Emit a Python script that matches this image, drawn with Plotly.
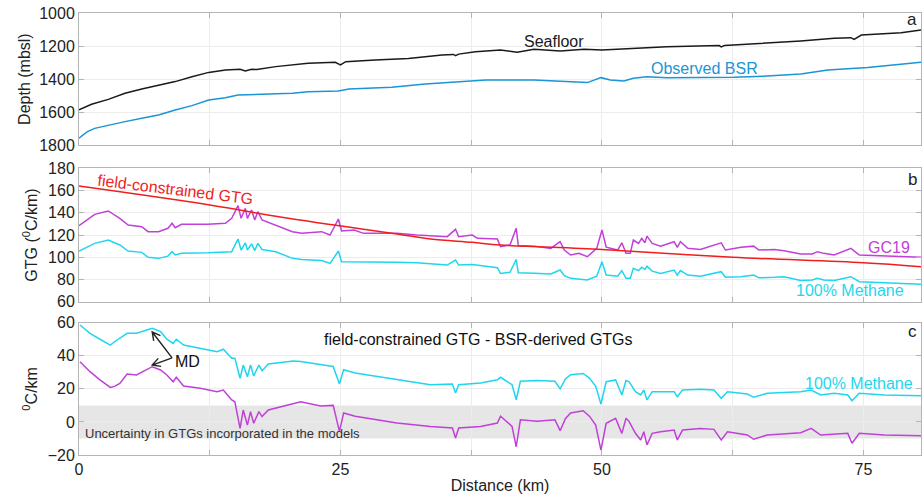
import math
import plotly.graph_objects as go

# ---------------- Panel a : depth ----------------
sea_x = [0, 1.2, 2.8, 4.4, 6.0, 7.6, 9.2, 10.8, 12.4, 14.0, 14.9, 15.4, 15.9, 16.5, 17.0, 18.8, 21.9,
         24.5, 25.0, 25.5, 28.3, 31.5, 34.7, 35.8, 36.0, 36.3, 37.9, 40.3, 41.9, 43.5, 46.0, 48.3,
         50.0, 53.0, 56.2, 61.2, 61.4, 61.7, 62.6, 65.8, 69.0, 72.2, 73.8, 74.1, 74.8, 78.6, 80.5]
sea_d = [1587, 1553, 1523, 1486, 1460, 1436, 1415, 1385, 1359, 1344, 1344, 1340, 1350, 1340, 1342, 1324, 1304,
         1298, 1314, 1294, 1284, 1274, 1253, 1250, 1257, 1248, 1233, 1223, 1237, 1219, 1229, 1219,
         1223, 1213, 1203, 1196, 1204, 1196, 1193, 1178, 1168, 1152, 1148, 1158, 1132, 1118, 1101]

bsr_x = [0, 0.8, 1.5, 2.8, 4.4, 6.0, 7.6, 9.2, 10.8, 12.4, 14.0, 15.2, 17.2, 20.4, 21.9, 24.8, 25.8,
         29.9, 33.1, 36.3, 38.9, 40.3, 43.5, 48.6, 49.9, 50.8, 52.1, 53.0, 54.3, 56.2, 62.6, 65.8,
         69.0, 71.6, 75.4, 80.5]
bsr_d = [1759, 1719, 1699, 1679, 1658, 1638, 1618, 1587, 1561, 1527, 1513, 1496, 1492, 1486, 1476, 1472, 1460,
         1450, 1430, 1415, 1405, 1405, 1405, 1421, 1391, 1405, 1411, 1395, 1385, 1391, 1389, 1381,
         1369, 1344, 1330, 1298]

# ---------------- Panel b : GTG ----------------
gtg_x = [0, 1.5, 2.8, 3.9, 4.7, 6.0, 6.6, 7.6, 8.5, 8.9, 9.2, 9.8, 12.3, 14.0, 14.6, 15.2, 15.5, 15.9,
         16.1, 16.5, 16.8, 17.1, 17.5, 18.8, 20.4, 21.3, 23.2, 24.0, 24.8, 25.1, 26.3, 27.2, 30.4,
         32.3, 35.2, 36.0, 36.3, 37.6, 38.1, 40.0, 40.3, 41.2, 41.8, 42.0, 43.5, 45.1, 46.0, 46.4,
         47.0, 47.8, 48.6, 49.5, 50.0, 50.4, 51.5, 51.9, 52.3, 52.7, 53.0, 53.5, 53.8, 54.1, 54.3,
         54.8, 55.6, 56.9, 57.2, 57.5, 58.2, 59.4, 61.4, 61.8, 63.3, 64.5, 65.0, 66.5, 67.4, 69.0,
         70.1, 70.6, 71.2, 72.2, 73.8, 74.6, 77.0, 78.6, 80.5]
gc19 = [128.4, 138.6, 141.6, 135.0, 129.0, 127.5, 123.0, 123.0, 126.0, 130.5, 126.6, 129.6, 129.6, 130.5, 135.0, 146.4, 135.0, 144.0,
        135.0, 142.5, 133.5, 141.0, 133.5, 129.0, 123.0, 121.5, 123.0, 120.0, 134.4, 123.6, 124.5, 121.5, 121.5,
        120.0, 118.5, 125.1, 118.5, 120.0, 117.0, 116.4, 109.5, 111.0, 126.0, 110.5, 110.0, 108.0, 114.0, 106.5,
        102.0, 103.5, 100.5, 108.0, 124.5, 109.0, 106.5, 113.0, 103.5, 103.5, 115.5, 112.5, 117.0, 113.0, 119.0,
        112.5, 110.0, 114.0, 108.8, 114.0, 108.0, 107.0, 113.0, 106.5, 109.0, 110.0, 106.5, 107.0, 105.9, 102.9,
        103.0, 105.0, 103.5, 102.0, 108.0, 102.0, 101.0, 101.0, 100.0]
methane_b = [105.6, 112.5, 115.5, 111.0, 105.6, 104.4, 100.0, 99.0, 101.0, 105.0, 102.0, 103.5, 104.0, 104.5, 105.0, 116.4, 106.5, 113.0,
             106.5, 112.0, 106.0, 112.5, 107.0, 105.0, 99.0, 98.0, 97.0, 94.5, 105.6, 96.0, 96.0, 95.4, 95.4,
             95.0, 93.0, 97.5, 93.0, 93.5, 93.0, 90.6, 85.5, 86.5, 98.0, 86.0, 85.5, 85.0, 88.5, 83.5,
             81.0, 80.5, 79.5, 83.0, 96.0, 84.0, 83.0, 88.0, 81.0, 81.0, 90.0, 88.0, 91.0, 89.0, 92.0,
             87.5, 85.5, 88.5, 84.0, 88.0, 84.0, 83.0, 87.0, 82.0, 82.5, 84.0, 81.5, 82.0, 82.5, 79.0,
             79.5, 81.0, 79.5, 79.0, 82.5, 78.0, 77.0, 76.5, 75.7]
red_x = [0, 12.5, 20.0, 25.1, 30.4, 33.6, 37.6, 40.3, 50.0, 62.5, 75.0, 80.5]
red_gtg = [164.0, 147.0, 135.0, 128.0, 121.0, 116.4, 113.4, 111.0, 107.0, 100.0, 95.0, 91.5]

# ---------------- Panel c : difference ----------------
dif_x = [0.1, 1.05, 2.0, 3.0, 3.4, 3.9, 4.6, 5.5, 7.0, 7.8, 8.4, 9.0, 9.3, 10.0, 11.6, 13.2, 13.8, 14.6,
         14.9, 15.4, 15.7, 16.1, 16.4, 16.7, 17.2, 17.5, 18.1, 20.5, 21.2, 23.1, 24.3, 24.9, 25.3,
         26.4, 30.4, 33.6, 35.7, 36.0, 36.3, 38.4, 40.0, 40.3, 41.4, 41.8, 42.2, 43.8, 45.5, 46.0,
         46.5, 47.0, 48.2, 48.8, 49.4, 49.9, 50.4, 51.3, 51.9, 52.3, 52.6, 53.2, 53.7, 54.0, 54.3,
         54.8, 55.6, 56.9, 57.2, 57.7, 59.4, 60.7, 61.4, 62.0, 63.9, 64.5, 65.8, 69.0, 70.0, 70.9,
         72.2, 73.5, 73.9, 74.6, 77.0, 80.5]
methane_c = [58.6, 53.6, 50.0, 46.5, 48.5, 50.5, 53.6, 53.6, 56.6, 54.6, 50.0, 47.5, 50.0, 46.5, 44.5, 42.5, 44.0, 38.5,
             38.5, 26.4, 34.4, 27.3, 34.4, 27.8, 34.4, 31.0, 35.0, 36.8, 36.5, 34.4, 33.5, 23.0, 31.6,
             29.6, 25.5, 22.5, 22.9, 17.5, 22.5, 23.5, 25.5, 27.0, 22.5, 13.4, 24.6, 25.0, 24.6, 20.0,
             26.0, 28.6, 29.3, 26.5, 21.5, 10.8, 24.3, 25.4, 16.3, 25.0, 24.3, 18.3, 16.3, 19.3, 13.3,
             18.3, 18.3, 18.3, 15.3, 19.3, 19.7, 19.3, 14.3, 18.3, 16.9, 14.9, 17.3, 18.3, 19.3, 16.3,
             17.3, 16.3, 12.8, 17.3, 16.3, 15.9]
gc19_c = [36.4, 30.4, 25.4, 20.9, 21.5, 23.3, 29.0, 28.4, 33.4, 31.4, 28.4, 24.3, 27.0, 21.7, 20.3, 18.3, 19.3, 13.3,
          12.2, -3.9, 7.2, -1.9, 6.2, -0.8, 6.2, 3.2, 7.2, 11.3, 12.2, 9.6, 10.0, -5.7, 5.4,
          3.4, -0.7, -2.7, -3.7, -9.7, -3.7, -2.7, -0.7, 3.4, -2.7, -15.0, 1.3, 0.4, 1.3, -5.3,
          2.0, 5.4, 6.8, 3.5, -1.9, -17.0, -0.8, 2.2, -6.9, 2.2, 0.2, -6.9, -10.9, -5.9, -13.9,
          -6.9, -5.9, -4.9, -10.9, -4.9, -3.9, -4.5, -10.9, -5.9, -7.9, -10.5, -7.9, -6.5, -3.9, -7.9,
          -7.3, -6.9, -12.9, -6.9, -7.9, -8.3]

X_MAX = 80.5

BLACK = "#1a1a1a"
BSR_BLUE = "#1a96d4"
MAGENTA = "#c040d8"
CYAN = "#1fd6ee"
RED = "#f01e1e"
FONT = "Liberation Sans, Arial, sans-serif"
FRAME = "#b4b4b4"
GRID = "#ececec"

fig = go.Figure()
fig.add_trace(go.Scatter(x=sea_x, y=sea_d, mode="lines", line=dict(color=BLACK, width=1.5), xaxis="x", yaxis="y"))
fig.add_trace(go.Scatter(x=bsr_x, y=bsr_d, mode="lines", line=dict(color=BSR_BLUE, width=1.5), xaxis="x", yaxis="y"))
fig.add_trace(go.Scatter(x=gtg_x, y=gc19, mode="lines", line=dict(color=MAGENTA, width=1.5), xaxis="x2", yaxis="y2"))
fig.add_trace(go.Scatter(x=gtg_x, y=methane_b, mode="lines", line=dict(color=CYAN, width=1.5), xaxis="x2", yaxis="y2"))
fig.add_trace(go.Scatter(x=red_x, y=red_gtg, mode="lines", line=dict(color=RED, width=1.5, shape="spline"), xaxis="x2", yaxis="y2"))
fig.add_trace(go.Scatter(x=dif_x, y=methane_c, mode="lines", line=dict(color=CYAN, width=1.5), xaxis="x3", yaxis="y3"))
fig.add_trace(go.Scatter(x=dif_x, y=gc19_c, mode="lines", line=dict(color=MAGENTA, width=1.5), xaxis="x3", yaxis="y3"))

axis_common = dict(showline=True, linecolor=FRAME, linewidth=1, mirror="ticks", ticks="inside",
                   ticklen=5, tickcolor=FRAME, showgrid=True, gridcolor=GRID, gridwidth=1,
                   zeroline=False, tickfont=dict(family=FONT, size=16, color="#222"))
title_font = dict(family=FONT, size=16, color="#222")

xa = dict(axis_common, range=[0, X_MAX], tickmode="linear", tick0=0, dtick=25,
          minor=dict(tickmode="linear", tick0=0, dtick=12.5, showgrid=True, gridcolor=GRID,
                     ticks="inside", ticklen=5, tickcolor=FRAME))

fig.update_layout(
    width=924, height=497,
    margin=dict(l=79, r=3, t=12, b=42),
    paper_bgcolor="white", plot_bgcolor="white",
    showlegend=False,
    font=dict(family=FONT, size=16, color="#222"),
    xaxis=dict(xa, anchor="y", showticklabels=False),
    xaxis2=dict(xa, anchor="y2", matches="x", showticklabels=False),
    xaxis3=dict(xa, anchor="y3", matches="x", showticklabels=True,
                title=dict(text="Distance (km)", font=title_font, standoff=2)),
    yaxis=dict(axis_common, domain=[0.6998, 0.9971], range=[1800, 1000], tickmode="linear",
               tick0=1000, dtick=200,
               title=dict(text="Depth (mbsl)", font=title_font, standoff=4)),
    yaxis2=dict(axis_common, domain=[0.3460, 0.6472], range=[60, 180], tickmode="linear",
                tick0=60, dtick=20,
                title=dict(text="GTG (<sup>0</sup>C/km)", font=title_font, standoff=6)),
    yaxis3=dict(axis_common, domain=[0.0, 0.2986], range=[-20, 60], tickmode="linear",
                tick0=-20, dtick=20,
                title=dict(text="<sup>0</sup>C/km", font=title_font, standoff=6)),
)

fig.add_shape(type="rect", xref="x3", yref="y3", x0=0, x1=X_MAX, y0=-10, y1=10,
              fillcolor="#e6e6e6", line=dict(width=0), layer="below")

def ann(text, x, y, xr, yr, color="#222", size=16, **kw):
    kw.setdefault("xanchor", "center")
    kw.setdefault("yanchor", "middle")
    fig.add_annotation(text=text, x=x, y=y, xref=xr, yref=yr, showarrow=False,
                       font=dict(family=FONT, size=size, color=color), **kw)

# panel letters
ann("a", 80.3, 1040, "x", "y", xanchor="right", size=17)
ann("b", 80.3, 170, "x2", "y2", xanchor="right", size=17)
ann("c", 80.3, 54.5, "x3", "y3", xanchor="right", size=17)

# curve labels
ann("Seafloor", 45.4, 1174, "x", "y", color=BLACK)
ann("Observed BSR", 59.8, 1338, "x", "y", color=BSR_BLUE)
ann("field-constrained GTG", 9.2, 160.5, "x2", "y2", color=RED, textangle=7)
ann("GC19", 77.4, 109.2, "x2", "y2", color=MAGENTA)
ann("100% Methane", 73.7, 70.5, "x2", "y2", color=CYAN)
ann("field-constrained GTG - BSR-derived GTGs", 38.2, 50.1, "x3", "y3", color="#111")
ann("100% Methane", 74.6, 23.5, "x3", "y3", color=CYAN)
ann("MD", 10.4, 36.4, "x3", "y3", color="#111")
ann("Uncertainty in GTGs incorporated in the models", 0.4, -6.9, "x3", "y3", color="#333",
    size=13, xanchor="left")

# MD arrows drawn as open-V arrow shapes (geometry computed in pixel space)
PX_PER_KM = 842 / X_MAX
PX_PER_C = 132.3 / 80.0
tail = (8.9, 38.7)
for tip in ((7.0, 54.4), (7.0, 34.4)):
    dx = (tip[0] - tail[0]) * PX_PER_KM
    dy = (tip[1] - tail[1]) * PX_PER_C
    ang = math.atan2(dy, dx)
    pts = []
    for s in (+1, -1):
        a = ang + math.pi + s * math.radians(28)
        pts.append((tip[0] + 9 * math.cos(a) / PX_PER_KM, tip[1] + 9 * math.sin(a) / PX_PER_C))
    path = (f"M {tail[0]} {tail[1]} L {tip[0]} {tip[1]} "
            f"M {pts[0][0]} {pts[0][1]} L {tip[0]} {tip[1]} L {pts[1][0]} {pts[1][1]}")
    fig.add_shape(type="path", xref="x3", yref="y3", path=path,
                  line=dict(color="#222", width=1.4))

fig.write_html("out.html")
